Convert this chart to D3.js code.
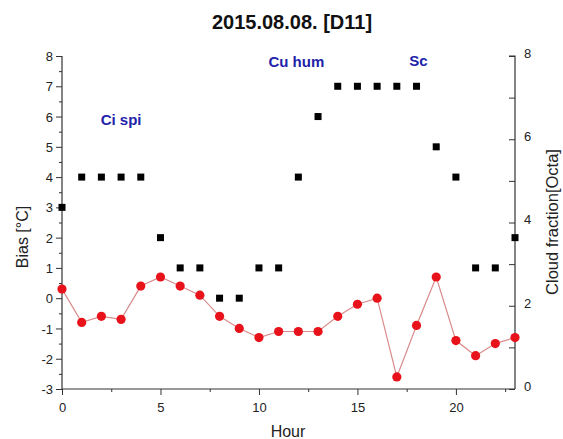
<!DOCTYPE html>
<html><head><meta charset="utf-8">
<script src="https://cdn.jsdelivr.net/npm/d3@7"></script>
<style>
body{margin:0;background:#fff;}
svg{display:block;font-family:"Liberation Sans",Arial,sans-serif;}
</style></head><body>
<svg id="c" width="563" height="439"></svg>
<script>
const hours = [0,1,2,3,4,5,6,7,8,9,10,11,12,13,14,15,16,17,18,19,20,21,22,23];
const bias = [0.3,-0.8,-0.6,-0.7,0.4,0.7,0.4,0.1,-0.6,-1.0,-1.3,-1.1,-1.1,-1.1,-0.6,-0.2,0.0,-2.6,-0.9,0.7,-1.4,-1.9,-1.5,-1.3];
const cloud = [3,4,4,4,4,2,1,1,0,0,1,1,4,6,7,7,7,7,7,5,4,1,1,2];
const xTicks = [0,5,10,15,20];
const leftTicks = [-3,-2,-1,0,1,2,3,4,5,6,7,8];
const rightTicks = [0,2,4,6,8];
const labels = [{t:"Ci spi",h:3.0,v:5.9},{t:"Cu hum",h:11.9,v:7.8},{t:"Sc",h:18.1,v:7.85}];

const svg = d3.select("#c");
const L=62, R=515, T=56, B=389;
const x = d3.scaleLinear().domain([0,23]).range([L,R]);
const yL = d3.scaleLinear().domain([-3,8]).range([B,T]);
const yR = d3.scaleLinear().domain([0,8]).range([B,T]);

// axes
const gx = svg.append("g").attr("transform",`translate(0,${B})`);
gx.call(d3.axisBottom(x).tickValues(d3.range(0,23.1,2.5)).tickSize(3).tickFormat(""));
gx.call(g=>g.selectAll(".tick").filter(d=>d%5===0).select("line").attr("y2",6));
gx.selectAll(".tick").filter(d=>xTicks.includes(d)).append("text").attr("y",23).attr("fill","#222").attr("font-size",13).attr("text-anchor","middle").text(d=>d);
gx.select(".domain").attr("d",`M${L},0H${R}`);

const gl = svg.append("g").attr("transform",`translate(${L},0)`);
gl.call(d3.axisLeft(yL).tickValues(d3.range(-3,8.01,0.5)).tickSize(3).tickFormat(""));
gl.selectAll(".tick").filter(d=>Number.isInteger(d)).select("line").attr("x2",-6);
gl.selectAll(".tick").filter(d=>leftTicks.includes(d)).append("text").attr("x",-9).attr("dy","0.35em").attr("fill","#222").attr("font-size",13).attr("text-anchor","end").text(d=>d);
gl.select(".domain").attr("d",`M0,${T}V${B}`);

const gr = svg.append("g").attr("transform",`translate(${R},0)`);
gr.call(d3.axisRight(yR).tickValues(d3.range(0,8.01,1)).tickSize(-6).tickFormat(""));
gr.selectAll(".tick").filter(d=>rightTicks.includes(d)).append("text").attr("x",9).attr("dy","0.1em").attr("fill","#222").attr("font-size",13).attr("text-anchor","start").text(d=>d);
gr.select(".domain").attr("d",`M-6,${T}H0V${B}`);
svg.selectAll(".domain").attr("stroke","#333").attr("stroke-width",1.2);
svg.selectAll(".tick line").attr("stroke","#333");

// line + points
svg.append("path").datum(hours)
  .attr("fill","none").attr("stroke","#d98b8b").attr("stroke-width",1.2)
  .attr("d",d3.line().x(h=>x(h)).y((h,i)=>yL(bias[i])));
svg.append("g").selectAll("circle").data(hours).join("circle")
  .attr("cx",h=>x(h)).attr("cy",(h,i)=>yL(bias[i])).attr("r",4.6).attr("fill","#e8121a");
svg.append("g").selectAll("rect").data(hours).join("rect")
  .attr("x",h=>x(h)-3.5).attr("y",(h,i)=>yL(cloud[i])-3.5).attr("width",7).attr("height",7).attr("fill","#000");

// annotations
svg.append("g").selectAll("text").data(labels).join("text")
  .attr("x",d=>x(d.h)).attr("y",d=>yL(d.v)).attr("text-anchor","middle").attr("dy","0.35em")
  .attr("font-size",15).attr("font-weight","bold").attr("fill","#2222aa").text(d=>d.t);

// titles
svg.append("text").attr("x",292).attr("y",29).attr("text-anchor","middle").attr("font-size",20).attr("font-weight","bold").attr("fill","#111").text("2015.08.08. [D11]");
svg.append("text").attr("x",288).attr("y",437).attr("text-anchor","middle").attr("font-size",16).attr("fill","#222").text("Hour");
svg.append("text").attr("transform","translate(28,237) rotate(-90)").attr("text-anchor","middle").attr("font-size",16).attr("fill","#222").text("Bias [°C]");
svg.append("text").attr("transform","translate(558,222) rotate(-90)").attr("text-anchor","middle").attr("font-size",16.5).attr("fill","#222").text("Cloud fraction[Octa]");
</script></body></html>
